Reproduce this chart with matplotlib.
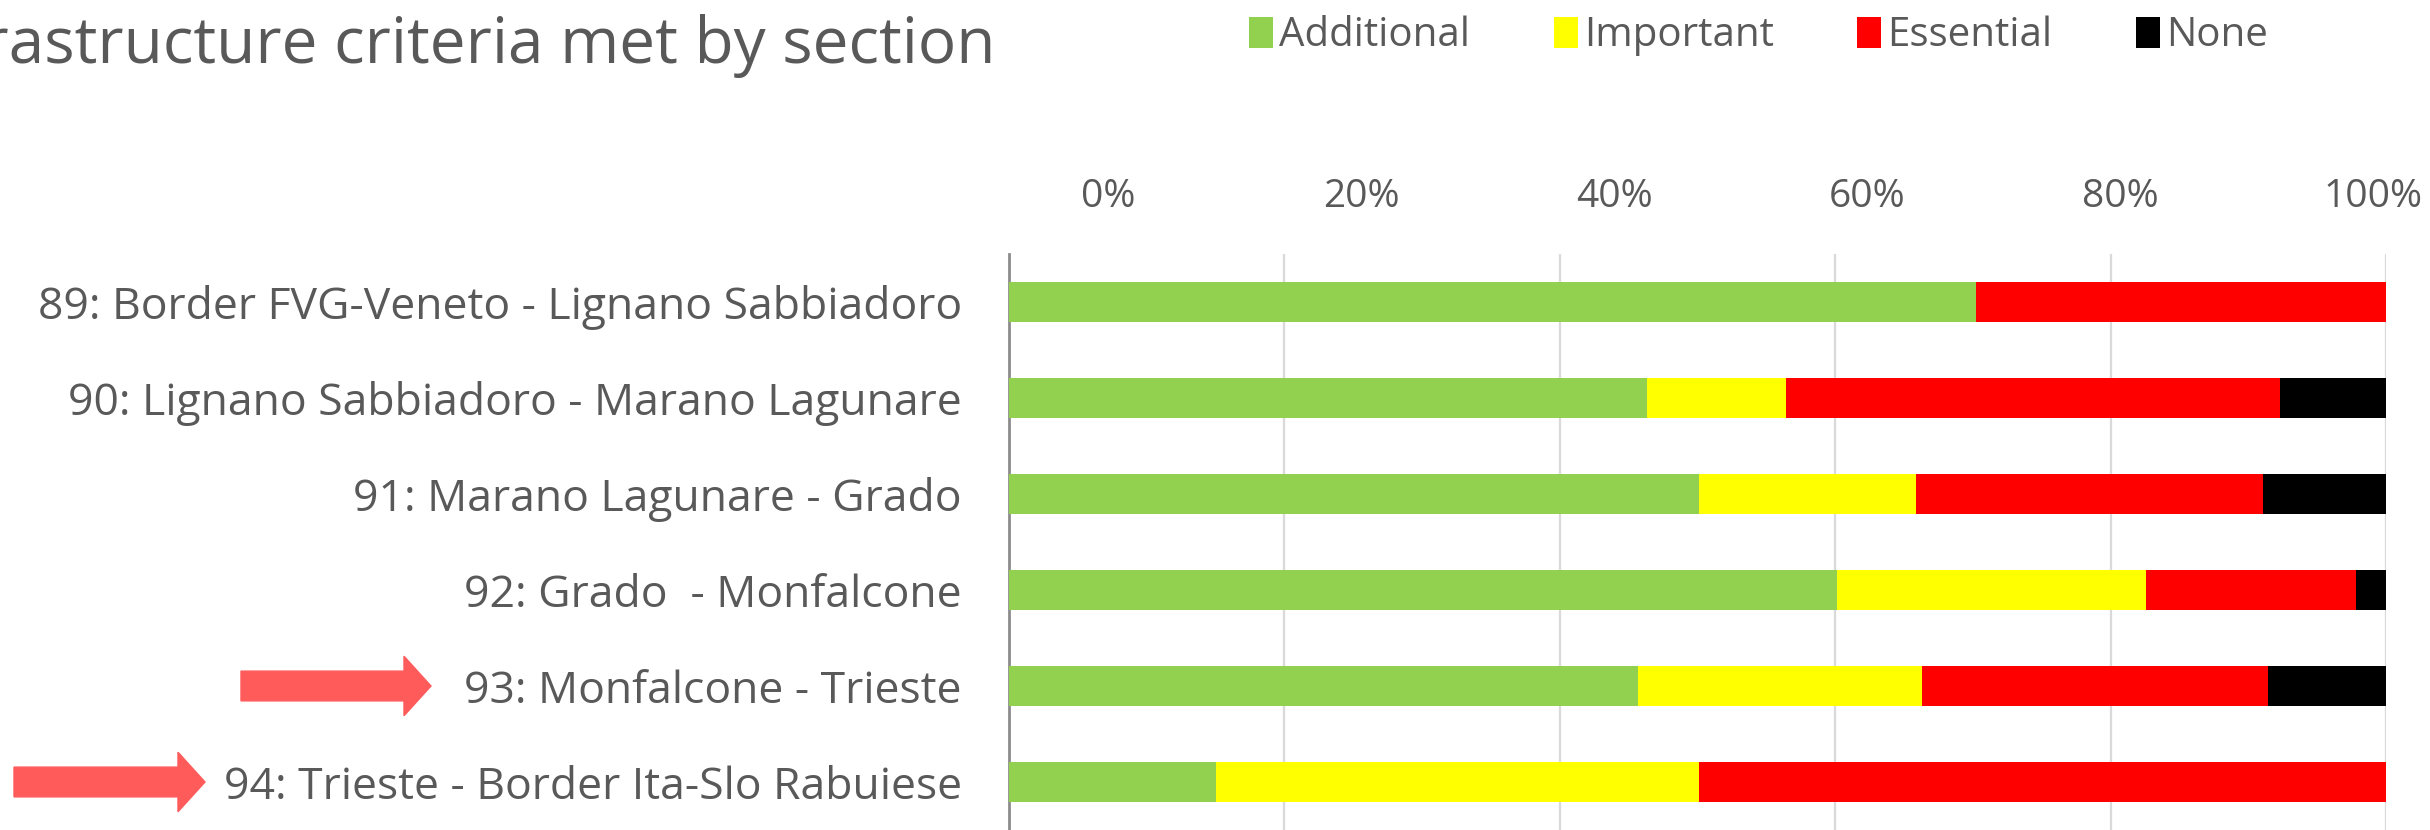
import numpy as np
import matplotlib
matplotlib.use("Agg")
import matplotlib.pyplot as plt
from matplotlib.patches import FancyArrow
from matplotlib.transforms import blended_transform_factory

plt.rcParams['font.family'] = ['Open Sans', 'DejaVu Sans']

# sections, top to bottom
sections = [
    "89: Border FVG-Veneto - Lignano Sabbiadoro",
    "90: Lignano Sabbiadoro - Marano Lagunare",
    "91: Marano Lagunare - Grado",
    "92: Grado  - Monfalcone",
    "93: Monfalcone - Trieste",
    "94: Trieste - Border Ita-Slo Rabuiese",
]
# share of criteria met (%)
additional = [70.2, 46.3, 50.1, 60.1, 45.7, 15.0]
important = [0.0, 10.1, 15.8, 22.5, 20.6, 35.1]
essential = [29.8, 35.9, 25.2, 15.2, 25.1, 49.9]
none_met = [0.0, 7.7, 8.9, 2.2, 8.6, 0.0]

series_names = ["Additional", "Important", "Essential", "None"]
series_colors = ["#92D050", "#FFFF00", "#FF0000", "#000000"]
xticks = [0, 20, 40, 60, 80, 100]
xtick_labels = ["0%", "20%", "40%", "60%", "80%", "100%"]
highlighted = ["93: Monfalcone - Trieste", "94: Trieste - Border Ita-Slo Rabuiese"]

W, H = 2430, 830
TXT = "#595959"

fig = plt.figure(figsize=(W / 100, H / 100), dpi=100)
fig.patch.set_facecolor("white")

ax = fig.add_axes([1009 / W, 0, (2386 - 1009) / W, (H - 254) / H])
y = np.arange(len(sections))
left = np.zeros(len(sections))
bars = []
for vals, name, col in zip([additional, important, essential, none_met],
                           series_names, series_colors):
    b = ax.barh(y, vals, left=left, height=0.41, color=col, label=name, zorder=3)
    bars.append(b)
    left = left + np.array(vals)

ax.set_xlim(0, 100)
ax.set_ylim(-0.5, len(sections) - 0.5)
ax.invert_yaxis()
ax.set_yticks(y)
ax.set_yticklabels(sections, fontsize=32, color=TXT)
ax.tick_params(axis="y", length=0, pad=34)
ax.set_xticks(xticks)
ax.tick_params(axis="x", length=0, labelbottom=False)
ax.grid(axis="x", color="#D9D9D9", linewidth=1.6, zorder=0)
for s in ["top", "right", "bottom"]:
    ax.spines[s].set_visible(False)
ax.spines["left"].set_color("#8C8C8C")
ax.spines["left"].set_linewidth(2)

# percent labels sit on a slightly narrower strip above the plot, as in the source
lab = fig.add_axes([1108 / W, (H - 254) / H, (2373 - 1108) / W, 0.0001])
lab.set_xlim(0, 100)
lab.set_xticks(xticks)
lab.set_xticklabels(xtick_labels, fontsize=28, color=TXT)
lab.xaxis.tick_top()
lab.tick_params(axis="x", length=0, pad=27)
lab.set_yticks([])
lab.patch.set_visible(False)
for s in lab.spines.values():
    s.set_visible(False)

# title, cropped on the left in the original
fig.text(995 / W, 1 - 63 / H, "Infrastructure criteria met by section",
         ha="right", va="baseline", fontsize=46, color=TXT)

fig.legend(handles=bars, labels=series_names, loc="center right",
           bbox_to_anchor=(2284 / W, 1 - 36 / H), ncol=4, frameon=False,
           fontsize=29, labelcolor=TXT, handlelength=0.6, handleheight=0.8,
           handletextpad=0.15, columnspacing=2.07, borderaxespad=0)

# red arrows pointing at the highlighted sections
tr = blended_transform_factory(fig.transFigure, ax.transData)
arrow_x = {highlighted[0]: (241, 431), highlighted[1]: (14, 205)}
for name in highlighted:
    row = sections.index(name)
    x0, x1 = arrow_x[name]
    hl = 27
    ax.add_patch(FancyArrow(x0 / W, row, (x1 - x0) / W, 0, width=0.31,
                            head_width=0.62, head_length=hl / W,
                            length_includes_head=True, color="#FF5B5B",
                            transform=tr, clip_on=False, zorder=5))

fig.savefig("out.png", dpi=100, facecolor="white")
